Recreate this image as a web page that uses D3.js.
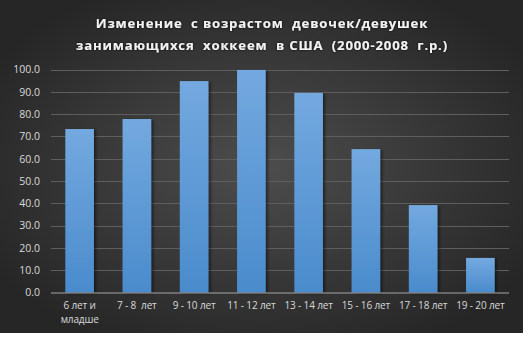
<!DOCTYPE html>
<html><head><meta charset="utf-8">
<script src="https://cdn.jsdelivr.net/npm/d3@7"></script>
<style>html,body{margin:0;padding:0;background:#fff;}svg{display:block;}</style>
</head><body>
<script>
const categories = [["6 лет и","младше"],["7 - 8  лет"],["9 - 10 лет"],["11 - 12 лет"],["13 - 14 лет"],["15 - 16 лет"],["17 - 18 лет"],["19 - 20 лет"]];
const values = [73.3, 77.8, 94.8, 99.8, 89.5, 64.3, 39.2, 15.5];
const yTicks = [0,10,20,30,40,50,60,70,80,90,100];
const titleLines = ["Изменение  с возрастом  девочек/девушек", "занимающихся  хоккеем  в США  (2000-2008  г.р.)"];

const W = 528, H = 338;
const svg = d3.select("body").append("svg").attr("width", W).attr("height", H);
const defs = svg.append("defs");
const bg = defs.append("radialGradient").attr("id","bg").attr("cx","50%").attr("cy","50%").attr("r","60%");
bg.append("stop").attr("offset","0%").attr("stop-color","#4d4d4d");
bg.append("stop").attr("offset","100%").attr("stop-color","#262626");
const bar = defs.append("linearGradient").attr("id","bar").attr("x1",0).attr("y1",0).attr("x2",0).attr("y2",1);
bar.append("stop").attr("offset","0%").attr("stop-color","#73a9df");
bar.append("stop").attr("offset","100%").attr("stop-color","#4a8bcc");
const sh = defs.append("filter").attr("id","sh").attr("x","-20%").attr("y","-20%").attr("width","150%").attr("height","150%");
sh.append("feDropShadow").attr("dx",2).attr("dy",1).attr("stdDeviation",1.5).attr("flood-color","#000").attr("flood-opacity",0.5);
const glow = defs.append("filter").attr("id","glow").attr("x","-10%").attr("y","-30%").attr("width","120%").attr("height","160%");
glow.append("feDropShadow").attr("dx",0).attr("dy",0).attr("stdDeviation",1.2).attr("flood-color","#000").attr("flood-opacity",0.9);

svg.append("rect").attr("x",0).attr("y",0).attr("width",523).attr("height",333).attr("fill","url(#bg)");

const x = d3.scaleBand().domain(d3.range(categories.length)).range([51, 509]).paddingInner(0.5).paddingOuter(0.25);
const y = d3.scaleLinear().domain([0,100]).range([292.5, 69.5]);

const grid = svg.append("g");
grid.selectAll("line").data(yTicks.filter(t=>t>0)).join("line")
  .attr("x1",51).attr("x2",509).attr("y1",d=>Math.round(y(d))+0.5).attr("y2",d=>Math.round(y(d))+0.5)
  .attr("stroke","#5e5e5e").attr("stroke-width",1);

const yAxis = svg.append("g").attr("transform","translate(51,0)")
  .call(d3.axisLeft(y).tickValues(yTicks).tickFormat(d3.format(".1f")).tickSize(0).tickPadding(11));
yAxis.select(".domain").remove();
yAxis.selectAll("text").attr("fill","#d9d9d9").attr("font-family","'Open Sans', sans-serif").attr("font-size","10.5px");

svg.append("g").selectAll("rect").data(values).join("rect")
  .attr("x",(d,i)=>x(i)).attr("width",x.bandwidth())
  .attr("y",d=>y(d)).attr("height",d=>y(0)-y(d))
  .attr("fill","url(#bar)").attr("filter","url(#sh)");

svg.append("line").attr("x1",51).attr("x2",509).attr("y1",293).attr("y2",293).attr("stroke","#a6a6a6").attr("stroke-width",1.2);

const xl = svg.append("g");
categories.forEach((c,i)=>{
  const t = xl.append("text").attr("x",x(i)+x.bandwidth()/2).attr("y",309)
    .attr("text-anchor","middle").attr("fill","#d9d9d9")
    .attr("font-family","'Open Sans', sans-serif").attr("font-size","10px").attr("letter-spacing","-0.15px");
  c.forEach((s,j)=>t.append("tspan").attr("x",x(i)+x.bandwidth()/2).attr("dy",j===0?0:13.5).attr("xml:space","preserve").text(s));
});

const tt = svg.append("g").attr("filter","url(#glow)");
titleLines.forEach((s,i)=>{
  tt.append("text").attr("x",262).attr("y",28+i*22).attr("text-anchor","middle")
    .attr("fill","#f2f2f2").attr("font-family","'Open Sans', sans-serif").attr("font-weight","bold")
    .attr("font-size","13.2px").attr("letter-spacing","0.8px").attr("xml:space","preserve").text(s);
});
</script>
</body></html>
